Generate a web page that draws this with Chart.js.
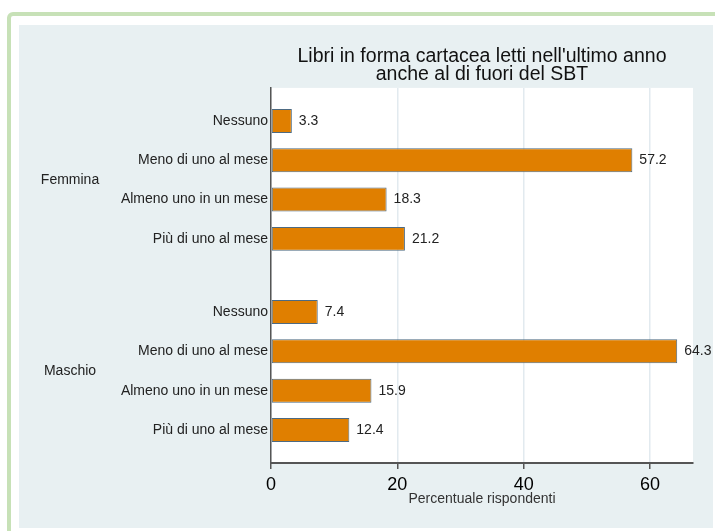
<!DOCTYPE html>
<html>
<head>
<meta charset="utf-8">
<script src="https://cdn.jsdelivr.net/npm/chart.js@4"></script>
<style>
  html, body { margin: 0; padding: 0; background: #fff; overflow: hidden; width: 715px; height: 531px; }
  #frame { position: absolute; left: 7px; top: 12px; width: 800px; height: 600px;
           border: 4px solid #c7e1b7; border-radius: 6px; }
  #wrap { position: absolute; left: 19px; top: 25px; width: 694px; height: 503px; background: #e8f0f2; }
</style>
</head>
<body>
<div id="frame"></div>
<div id="wrap"><canvas id="myChart" width="694" height="503"></canvas></div>
<script>
const groups = ['Femmina', 'Maschio'];
const answers = ['Nessuno', 'Meno di uno al mese', 'Almeno uno in un mese', 'Più di uno al mese'];
const femmina = [3.3, 57.2, 18.3, 21.2];
const maschio = [7.4, 64.3, 15.9, 12.4];
const xTicks = [0, 20, 40, 60];
const titleLines = ["Libri in forma cartacea letti nell'ultimo anno", 'anche al di fuori del SBT'];
const xTitle = 'Percentuale rispondenti';

// slot layout: answers one step apart, groups separated by a wider gap
const groupStep = answers.length - 1 + 1.86;
const margin = 0.84;
const values = [femmina, maschio];
const points = [];
const slotLabels = {};
groups.forEach((g, gi) => {
  answers.forEach((a, i) => {
    const pos = gi * groupStep + i;
    points.push({ x: values[gi][i], y: pos });
    slotLabels[pos.toFixed(3)] = a;
  });
});
const groupCenters = groups.map((g, gi) => gi * groupStep + (answers.length - 1) / 2);
const yMin = -margin;
const yMax = groupStep * (groups.length - 1) + answers.length - 1 + margin;

const font = "'Liberation Sans', Arial, sans-serif";

const plotBg = {
  id: 'plotBg',
  beforeDraw(chart) {
    const a = chart.chartArea, c = chart.ctx;
    c.save();
    c.fillStyle = '#ffffff';
    c.fillRect(a.left, a.top, a.right - a.left, a.bottom - a.top);
    c.restore();
  }
};

const barValues = {
  id: 'barValues',
  afterDatasetsDraw(chart) {
    const c = chart.ctx;
    const meta = chart.getDatasetMeta(0);
    c.save();
    c.font = '14px ' + font;
    c.fillStyle = '#222';
    c.textBaseline = 'middle';
    meta.data.forEach((bar, i) => {
      c.fillText(points[i].x.toFixed(1), bar.x + 7, bar.y);
    });
    c.restore();
  }
};

// outer category (group) labels, placed on the y scale
const groupLabels = {
  id: 'groupLabels',
  afterDraw(chart) {
    const c = chart.ctx, y = chart.scales.y;
    c.save();
    c.font = '14px ' + font;
    c.fillStyle = '#222';
    c.textAlign = 'center';
    c.textBaseline = 'middle';
    groups.forEach((g, gi) => c.fillText(g, 51, y.getPixelForValue(groupCenters[gi])));
    c.restore();
  }
};

const ctx = document.getElementById('myChart');
new Chart(ctx, {
  type: 'bar',
  data: {
    datasets: [{
      data: points,
      backgroundColor: '#e07f00',
      borderColor: '#4d6a82',
      borderWidth: 1,
      borderSkipped: false,
      barPercentage: 0.61,
      categoryPercentage: 1
    }]
  },
  options: {
    indexAxis: 'y',
    responsive: false,
    animation: false,
    layout: { padding: { left: 100, right: 20, top: 0, bottom: 16 } },
    plugins: {
      legend: { display: false },
      tooltip: { enabled: false },
      title: {
        display: true,
        text: titleLines,
        fullSize: false,
        color: '#111',
        font: { family: font, size: 19.5, weight: 'normal', lineHeight: 0.92 },
        padding: { top: 23, bottom: 4 }
      }
    },
    scales: {
      x: {
        type: 'linear',
        min: 0,
        max: 66.8,
        afterBuildTicks(scale) { scale.ticks = xTicks.map(v => ({ value: v })); },
        afterFit(scale) { scale.height = 49; },
        grid: { color: '#e2eaef', lineWidth: 1.5, tickLength: 6, tickColor: '#555', drawTicks: true },
        border: { display: true, color: '#555', width: 2 },
        ticks: { color: '#000', padding: 5, font: { family: font, size: 18 } },
        title: { display: true, text: xTitle, color: '#333', padding: { top: 0, bottom: 4 },
                 font: { family: font, size: 14 } }
      },
      y: {
        type: 'linear',
        reverse: true,
        offset: false,
        min: yMin,
        max: yMax,
        afterBuildTicks(scale) { scale.ticks = points.map(p => ({ value: p.y })); },
        afterFit(scale) { scale.width = 152; },
        grid: { display: false, drawTicks: false },
        border: { display: true, color: '#555', width: 1.5 },
        ticks: {
          padding: 3,
          color: '#222',
          font: { family: font, size: 14 },
          callback: v => slotLabels[Number(v).toFixed(3)] || ''
        }
      }
    }
  },
  plugins: [plotBg, barValues, groupLabels]
});
</script>
</body>
</html>
